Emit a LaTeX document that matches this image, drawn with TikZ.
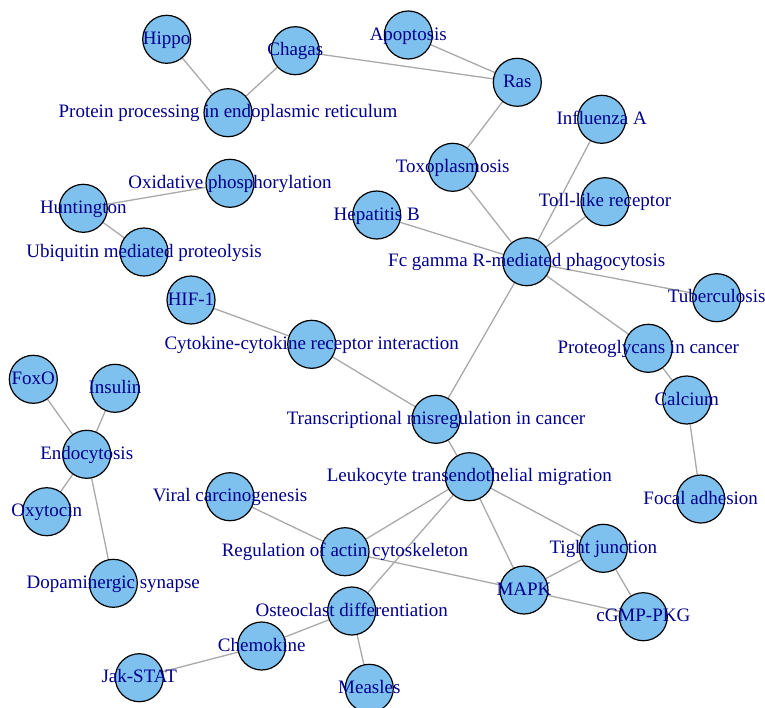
\documentclass[tikz,border=0pt]{standalone}
\usepackage{fontspec}
\setmainfont{Liberation Serif}
\usepackage{tikz}
\usetikzlibrary{backgrounds}

\definecolor{vfill}{HTML}{7EC0EE}
\definecolor{vtext}{HTML}{00008B}
\definecolor{egray}{HTML}{A9A9A9}

\begin{document}
\begin{tikzpicture}[
    x=1pt, y=-1pt,
    vertex/.style = {circle, draw=black, line width=1.2pt, fill=vfill,
                     minimum size=48pt, inner sep=0pt},
    vlabel/.style = {text=vtext, font=\fontsize{19}{19}\selectfont,
                     inner sep=0pt, text height=0.7em, text depth=0.2em,
                     yshift=-2.5pt},
    edge/.style   = {draw=egray, line width=1.3pt}
  ]
    \useasboundingbox (0,0) rectangle (765,707);

    %% ---- top cluster ----
    \node[vertex, label={[vlabel]center:Hippo}] (hippo) at (166.7,39.3) {};
    \node[vertex, label={[vlabel]center:Chagas}] (chagas) at (295.3,50.7) {};
    \node[vertex, label={[vlabel]center:Protein processing in endoplasmic reticulum}] (protein) at (228,112.7) {};
    \node[vertex, label={[vlabel]center:Apoptosis}] (apoptosis) at (408.3,35) {};
    \node[vertex, label={[vlabel]center:Ras}] (ras) at (517.3,82.3) {};
    \node[vertex, label={[vlabel]center:Influenza A}] (influenza) at (601.7,119.3) {};
    \node[vertex, label={[vlabel]center:Toxoplasmosis}] (toxo) at (452.7,167.3) {};
    \node[vertex, label={[vlabel]center:Toll-like receptor}] (toll) at (605,201.7) {};
    \node[vertex, label={[vlabel]center:Hepatitis B}] (hepb) at (376.7,215) {};
    \node[vertex, label={[vlabel]center:Fc gamma R-mediated phagocytosis}] (fcgamma) at (526.7,261.7) {};
    \node[vertex, label={[vlabel]center:Tuberculosis}] (tuber) at (716.7,297.7) {};
    \node[vertex, label={[vlabel]center:Proteoglycans in cancer}] (proteo) at (648.3,348.3) {};
    \node[vertex, label={[vlabel]center:Calcium}] (calcium) at (686.7,400) {};
    \node[vertex, label={[vlabel]center:Focal adhesion}] (focal) at (700.7,499) {};

    %% ---- small left clusters ----
    \node[vertex, label={[vlabel]center:Oxidative phosphorylation}] (oxphos) at (230,183.3) {};
    \node[vertex, label={[vlabel]center:Huntington}] (hunting) at (83.3,208.3) {};
    \node[vertex, label={[vlabel]center:Ubiquitin mediated proteolysis}] (ubiq) at (144,252) {};

    \node[vertex, label={[vlabel]center:FoxO}] (foxo) at (33.3,379.3) {};
    \node[vertex, label={[vlabel]center:Insulin}] (insulin) at (115,388.3) {};
    \node[vertex, label={[vlabel]center:Endocytosis}] (endo) at (86.7,454.3) {};
    \node[vertex, label={[vlabel]center:Oxytocin}] (oxy) at (46.7,511.7) {};
    \node[vertex, label={[vlabel]center:Dopaminergic synapse}] (dopa) at (113.3,583.3) {};

    %% ---- lower cluster ----
    \node[vertex, label={[vlabel]center:HIF-1}] (hif) at (191,300) {};
    \node[vertex, label={[vlabel]center:Cytokine-cytokine receptor interaction}] (cytokine) at (311.7,344.3) {};
    \node[vertex, label={[vlabel]center:Transcriptional misregulation in cancer}] (transcr) at (436,419.3) {};
    \node[vertex, label={[vlabel]center:Leukocyte transendothelial migration}] (leuko) at (469.3,476.7) {};
    \node[vertex, label={[vlabel]center:Tight junction}] (tight) at (603.3,548.3) {};
    \node[vertex, label={[vlabel]center:MAPK}] (mapk) at (524,590) {};
    \node[vertex, label={[vlabel]center:cGMP-PKG}] (cgmp) at (643.3,616.7) {};
    \node[vertex, label={[vlabel]center:Viral carcinogenesis}] (viral) at (230,496.7) {};
    \node[vertex, label={[vlabel]center:Regulation of actin cytoskeleton}] (actin) at (345,551.7) {};
    \node[vertex, label={[vlabel]center:Osteoclast differentiation}] (osteo) at (351.7,611) {};
    \node[vertex, label={[vlabel]center:Chemokine}] (chemo) at (261.7,646) {};
    \node[vertex, label={[vlabel]center:Jak-STAT}] (jak) at (139.3,677.7) {};
    \node[vertex, label={[vlabel]center:Measles}] (measles) at (369.3,688.3) {};

    %% ---- edges, behind the vertices ----
    \begin{scope}[on background layer]
      \draw[edge] (hippo) -- (protein) -- (chagas) -- (ras) -- (apoptosis);
      \draw[edge] (ras) -- (toxo) -- (fcgamma);
      \draw[edge] (influenza) -- (fcgamma) -- (toll);
      \draw[edge] (hepb) -- (fcgamma) -- (tuber);
      \draw[edge] (fcgamma) -- (proteo) -- (calcium) -- (focal);
      \draw[edge] (fcgamma) -- (transcr);

      \draw[edge] (oxphos) -- (hunting) -- (ubiq);
      \draw[edge] (foxo) -- (endo) -- (insulin);
      \draw[edge] (oxy) -- (endo) -- (dopa);

      \draw[edge] (hif) -- (cytokine) -- (transcr) -- (leuko);
      \draw[edge] (leuko) -- (tight) -- (cgmp) -- (mapk) -- (tight);
      \draw[edge] (leuko) -- (mapk) -- (actin) -- (leuko) -- (osteo);
      \draw[edge] (viral) -- (actin);
      \draw[edge] (jak) -- (chemo) -- (osteo) -- (measles);
    \end{scope}
  \end{tikzpicture}
\end{document}
